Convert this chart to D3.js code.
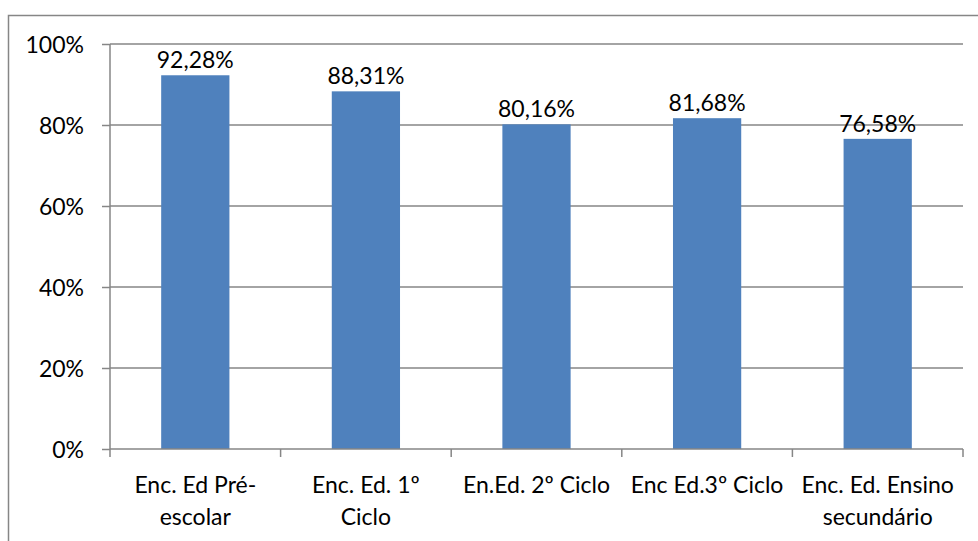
<!DOCTYPE html>
<html>
<head>
<meta charset="utf-8">
<script src="https://cdn.jsdelivr.net/npm/d3@7"></script>
<style>
  body { margin: 0; background: #fff; }
  text { font-family: Lato, "Open Sans", sans-serif; fill: #000; }
</style>
</head>
<body>
<script>
// categories (line breaks as in the original axis labels)
const categories = ["Enc. Ed Pré-\nescolar", "Enc. Ed. 1º\nCiclo", "En.Ed. 2º Ciclo", "Enc Ed.3º Ciclo", "Enc. Ed. Ensino\nsecundário"];
const values = [92.28, 88.31, 80.16, 81.68, 76.58];
const valueLabels = ["92,28%", "88,31%", "80,16%", "81,68%", "76,58%"];
const yTicks = [0, 20, 40, 60, 80, 100];

const width = 978,
    height = 541,
    margin = {top: 44, right: 15, bottom: 92, left: 110};

const fontSize = '23px';

const svg = d3.select('body').append('svg')
    .attr('width', width)
    .attr('height', height);

// outer chart border (runs off the right and bottom edge)
svg.append('rect')
    .attr('x', 8.5)
    .attr('y', 15.5)
    .attr('width', 990)
    .attr('height', 560)
    .attr('fill', 'none')
    .attr('stroke', '#868686')
    .attr('stroke-width', 1.5);

const x = d3.scaleBand()
    .domain(categories)
    .range([margin.left, width - margin.right])
    .paddingInner(0.6)
    .paddingOuter(0.3);

const y = d3.scaleLinear()
    .domain([0, 100])
    .range([height - margin.bottom, margin.top]);

// gridlines
svg.append('g')
    .selectAll('line')
    .data(yTicks.filter(d => d > 0))
    .enter().append('line')
    .attr('x1', margin.left)
    .attr('x2', width - margin.right)
    .attr('y1', d => y(d))
    .attr('y2', d => y(d))
    .attr('stroke', '#868686')
    .attr('stroke-width', 1.5);

/* ------- Y AXIS -------*/
const yAxis = svg.append('g')
    .attr('transform', `translate(${margin.left},0)`)
    .call(d3.axisLeft(y).tickValues(yTicks).tickFormat(d => d + '%').tickSize(8).tickPadding(18));
yAxis.selectAll('line, path').attr('stroke', '#868686').attr('stroke-width', 1.5);
yAxis.select('path').attr('d', `M0,${y(0)}V${y(100)}`);
yAxis.selectAll('text').style('font-size', fontSize).attr('dy', '0.35em');

/* ------- BARS -------*/
svg.append('g')
    .selectAll('rect')
    .data(values)
    .enter().append('rect')
    .attr('x', (d, i) => x(categories[i]))
    .attr('y', d => y(d))
    .attr('width', x.bandwidth())
    .attr('height', d => y(0) - y(d))
    .attr('fill', '#4F81BD');

svg.append('g')
    .selectAll('text')
    .data(values)
    .enter().append('text')
    .attr('x', (d, i) => x(categories[i]) + x.bandwidth() / 2)
    .attr('y', d => y(d) - 7)
    .attr('text-anchor', 'middle')
    .style('font-size', fontSize)
    .text((d, i) => valueLabels[i]);

/* ------- X AXIS -------*/
const xAxis = svg.append('g')
    .attr('transform', `translate(0,${y(0)})`);
xAxis.append('line')
    .attr('x1', margin.left).attr('x2', width - margin.right)
    .attr('stroke', '#868686').attr('stroke-width', 1.5);
// tick marks sit between the categories
const tickX = i => margin.left + i * (width - margin.right - margin.left) / categories.length;
xAxis.selectAll('line.tick')
    .data(d3.range(categories.length + 1))
    .enter().append('line')
    .attr('class', 'tick')
    .attr('x1', tickX)
    .attr('x2', tickX)
    .attr('y1', 0).attr('y2', 8)
    .attr('stroke', '#868686').attr('stroke-width', 1.5);

const lab = xAxis.selectAll('text')
    .data(categories)
    .enter().append('text')
    .attr('text-anchor', 'middle')
    .attr('transform', d => `translate(${x(d) + x.bandwidth() / 2},44)`)
    .style('font-size', fontSize);
lab.selectAll('tspan')
    .data(d => d.split('\n'))
    .enter().append('tspan')
    .attr('x', 0)
    .attr('y', (d, i) => i * 32)
    .text(d => d);
</script>
</body>
</html>
